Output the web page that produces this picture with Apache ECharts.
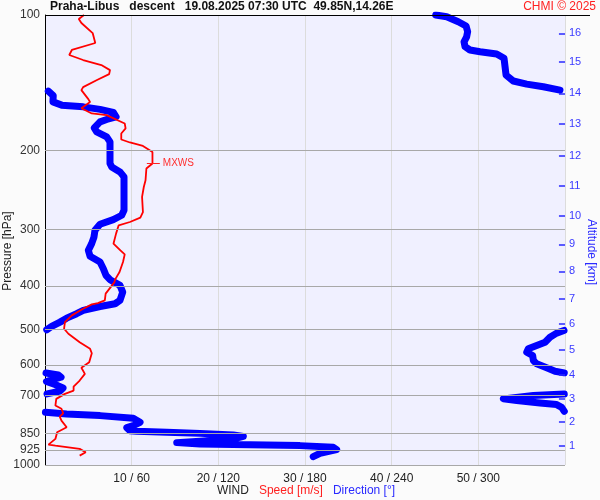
<!DOCTYPE html>
<html><head><meta charset="utf-8">
<script src="https://cdn.jsdelivr.net/npm/echarts@6/dist/echarts.min.js"></script>
<style>html,body{margin:0;padding:0;background:#fbfbfb}#c{width:600px;height:500px}</style>
</head><body><div id="c"></div>
<script>
// ---- data ----
const pressureTicks = [100, 200, 300, 400, 500, 600, 700, 850, 925, 1000];
const speedTicks = [10, 20, 30, 40, 50];
const kmTicks = [1, 2, 3, 4, 5, 6, 7, 8, 9, 10, 11, 12, 13, 14, 15, 16];
const kmPressure = [906.8, 802.2, 713.0, 630.3, 555.8, 486.0, 427.5, 371.3, 323.4, 279.7, 239.3, 205.2, 174.8, 149.4, 127.2, 109.8];
const mxwsPressure = 213.8;
const mxwsSpeed = 12.5;

const speedPressure = [100, 102.1, 104.2, 109.7, 115.4, 119.6, 122.7, 125.9, 129.2, 132.6, 135.3, 139.5, 144.6, 146.9, 153.8, 156.0, 161.1, 165.5, 166.9, 174.2, 178.7, 183.4, 189.1, 192.0, 195.4, 201.5, 213.8, 219.3, 232.9, 241.1, 253.7, 274.1, 282.0, 288.4, 293.3, 306.1, 322.2, 333.5, 340.3, 354.0, 372.6, 386.8, 392.8, 416.1, 430.7, 436.7, 439.7, 449.5, 465.1, 481.4, 498.0, 510.9, 533.4, 551.8, 564.4, 591.0, 608.2, 627.2, 649.1, 669.5, 683.3, 695.0, 713.0, 737.6, 750.2, 767.3, 780.4, 797.0, 824.3, 845.6, 875.0, 900.8, 905.4, 920.9, 937.1, 953.1];
const speedValues = [4.5, 3.9, 4.2, 5.5, 5.8, 3.1, 2.8, 4.4, 6.5, 7.5, 7.4, 6.0, 4.4, 4.2, 5.0, 5.2, 4.2, 5.4, 7.1, 9.2, 9.3, 8.8, 8.8, 9.8, 11.3, 12.4, 12.4, 11.7, 11.6, 11.4, 11.2, 11.3, 11.0, 9.8, 8.5, 8.2, 7.9, 8.7, 9.2, 9.0, 8.6, 8.1, 8.0, 7.0, 6.9, 6.1, 5.4, 4.4, 3.1, 2.3, 2.2, 2.7, 4.0, 5.2, 5.4, 5.1, 4.2, 4.6, 4.0, 3.3, 3.3, 2.3, 1.3, 1.2, 1.9, 2.1, 1.7, 1.9, 2.5, 1.4, 1.2, 0.4, 1.2, 4.0, 4.7, 4.0];

const dirPressure = [100, 100.9, 103.5, 105.8, 108.9, 111.8, 114.7, 117.6, 119.6, 120.7, 122.1, 124.8, 130.3, 136.0, 140.2, 142.4, 144.4, 146.9,
  147.6, 151.0, 156.0, 158.6, 160.0, 162.1, 164.6, 168.4, 170.7, 172.8, 178.2, 181.9, 186.6, 191.4, 213.8, 217.6, 223.2, 229.0, 271.7, 278.6, 284.9, 291.8, 300.9, 311.5, 322.2, 333.5, 343.8, 354.0, 366.3, 378.9, 387.4, 398.8, 412.9, 430.7, 438.2, 444.4, 453.4, 461.1, 471.7, 481.4, 492.2, 500.6,
  502.4, 509.3, 520.0, 533.4, 542.4, 551.8, 561.5, 570.9, 585.9, 596.0, 608.2, 619.0, 624.0,
  624.6, 631.0, 638.2, 646.8, 652.4, 662.6, 674.6, 685.1, 695.0,
  695.7, 701.0, 713.0, 719.3, 727.8, 734.1, 744.4, 759.8,
  763.7, 770.0, 776.7, 787.5, 803.8, 817.6, 826.0, 838.9, 841.9, 846.2, 850.6, 857.6, 863.8, 875.1, 885.9, 891.8, 897.8, 901.0, 905.6, 913.5, 924.3, 941.9, 958.0];
const dirValues = [270.5, 278.1, 286.1, 291.5, 292.6, 291.9, 290.1, 290.8, 294.2, 301.2, 312.7, 317.8, 318.5, 319.2, 324.2, 333.5, 345.0, 356.5,
  2.3, 5.7, 5.5, 11.6, 26.5, 38.1, 47.3, 49.2, 42.7, 38.1, 34.1, 35.8, 42.7, 45.0, 45.0, 46.2, 51.9, 54.7, 54.7, 53.1, 47.3, 38.1, 34.6, 33.9, 32.3, 30.0, 31.2, 38.1, 40.4, 42.2, 45.0, 51.9, 53.8, 51.9, 48.5, 38.1, 26.5, 21.9, 15.0, 10.4, 4.6, 1.2,
  359.3, 354.2, 349.6, 346.2, 340.4, 334.6, 333.5, 337.6, 338.1, 340.4, 347.3, 353.1, 359.5,
  0.7, 9.2, 11.1, 4.6, 1.0, 6.9, 12.5, 10.4, 1.4,
  359.5, 338.1, 317.3, 326.6, 342.7, 354.2, 357.7, 359.5,
  0.3, 15.0, 38.1, 61.1, 65.8, 61.1, 56.6, 58.8, 63.5, 84.3, 107.3, 130.4, 137.3, 130.4, 107.3, 91.2, 107.3, 141.9, 176.5, 199.6, 201.9, 190.4, 185.7];

// ---- build ----
const FONT = 'Liberation Sans, Arial, sans-serif';
const speedData = speedPressure.map((p, i) => [speedValues[i], p]);
const dirData = [];
dirPressure.forEach((p, i) => {
  if (i > 0 && Math.abs(dirValues[i] - dirValues[i - 1]) > 180) dirData.push(['-', '-']);
  dirData.push([dirValues[i], p]);
});

const pressureLines = pressureTicks.map(p => ({
  yAxis: p,
  lineStyle: { color: p === 100 ? '#000' : '#a8a8a8', width: 1, type: 'solid' },
  label: { show: true, position: 'start', formatter: String(p), color: '#333', fontSize: 12, fontFamily: FONT, distance: 5 }
}));
const kmLines = kmTicks.map((k, i) => [
  { coord: [59.3, kmPressure[i]], lineStyle: { color: '#2a2aff', width: 1.5, type: 'solid' },
    label: { show: true, position: 'end', formatter: String(k), color: '#3a3aff', fontSize: 11, fontFamily: FONT, distance: 4 } },
  { coord: [60, kmPressure[i]] }
]);
const mxwsLines = [
  [{ coord: [mxwsSpeed - 0.75, mxwsPressure], lineStyle: { color: '#ff2020', width: 1, type: 'solid' },
     label: { show: true, position: 'end', formatter: 'MXWS', color: '#ff3030', fontSize: 10, fontFamily: FONT, distance: 3 } },
   { coord: [mxwsSpeed + 0.75, mxwsPressure] }],
  [{ coord: [-0.3, mxwsPressure], lineStyle: { color: '#ff2020', width: 1, type: 'solid' }, label: { show: false } },
   { coord: [1.2, mxwsPressure] }],
  [{ coord: [58.8, mxwsPressure], lineStyle: { color: '#ff2020', width: 1, type: 'solid' }, label: { show: false } },
   { coord: [60.3, mxwsPressure] }]
];

const chart = echarts.init(document.getElementById('c'), null, { renderer: 'canvas' });
chart.setOption({
  backgroundColor: '#fbfbfb',
  animation: false,
  textStyle: { fontFamily: FONT },
  title: [
    { text: 'Praha-Libus   descent   19.08.2025 07:30 UTC  49.85N,14.26E', left: 50, top: 1, padding: 0,
      textStyle: { fontSize: 12, fontWeight: 'bold', color: '#111', fontFamily: FONT } },
    { text: 'CHMI © 2025', right: 4, top: 1, padding: 0,
      textStyle: { fontSize: 12, fontWeight: 'normal', color: '#ff2020', fontFamily: FONT } }
  ],
  grid: { left: 45, right: 35, top: 15, bottom: 35, show: true, backgroundColor: '#f0f0ff', borderWidth: 0,
    containLabel: false, outerBoundsMode: 'none' },
  xAxis: [
    { type: 'value', min: 0, max: 60, interval: 10,
      axisLine: { show: false }, axisTick: { show: false },
      splitLine: { show: true, lineStyle: { color: '#dcdcdc', width: 1 } },
      axisLabel: { margin: 8, color: '#222', fontSize: 12, fontFamily: FONT,
        formatter: v => (speedTicks.indexOf(v) >= 0 ? v + ' / ' + (v * 6) : '') } },
    { type: 'value', min: 0, max: 360, show: false }
  ],
  yAxis: [
    { type: 'log', logBase: 10, min: 100, max: 1000, inverse: true,
      axisLine: { show: true, lineStyle: { color: '#000', width: 1 } }, axisTick: { show: false },
      axisLabel: { show: false }, splitLine: { show: false } },
    { type: 'log', logBase: 10, min: 100, max: 1000, inverse: true, position: 'right',
      axisLine: { show: false }, axisTick: { show: false }, axisLabel: { show: false }, splitLine: { show: false } }
  ],
  graphic: [
    { type: 'line', shape: { x1: 45, y1: 15.5, x2: 590, y2: 15.5 }, style: { stroke: '#000', lineWidth: 1 }, z: 100 },
    { type: 'text', x: 8, y: 251, rotation: Math.PI / 2,
      style: { text: 'Pressure [hPa]', fill: '#222', font: '12px ' + FONT, align: 'center', verticalAlign: 'middle' } },
    { type: 'text', x: 591, y: 252, rotation: -Math.PI / 2,
      style: { text: 'Altitude [km]', fill: '#2a2aff', font: '12px ' + FONT, align: 'center', verticalAlign: 'middle' } },
    { type: 'text', x: 306, y: 491,
      style: { text: '{w|WIND}   {s|Speed [m/s]}   {d|Direction [°]}', align: 'center', verticalAlign: 'middle',
        font: '12px ' + FONT,
        rich: {
          w: { fill: '#222', fontSize: 12, fontFamily: FONT },
          s: { fill: '#ff2020', fontSize: 12, fontFamily: FONT },
          d: { fill: '#2a2aff', fontSize: 12, fontFamily: FONT } } } }
  ],
  series: [
    { type: 'line', name: 'Direction', xAxisIndex: 1, yAxisIndex: 0, data: dirData, showSymbol: false,
      connectNulls: false, lineStyle: { color: '#0000ff', width: 7, cap: 'round', join: 'round' }, z: 3 },
    { type: 'line', name: 'Speed', xAxisIndex: 0, yAxisIndex: 0, data: speedData, showSymbol: false,
      lineStyle: { color: '#ff0000', width: 1.8 }, z: 4,
      markLine: { silent: true, symbol: ['none', 'none'], animation: false,
        data: pressureLines.concat(kmLines, mxwsLines) } }
  ]
});
</script></body></html>
